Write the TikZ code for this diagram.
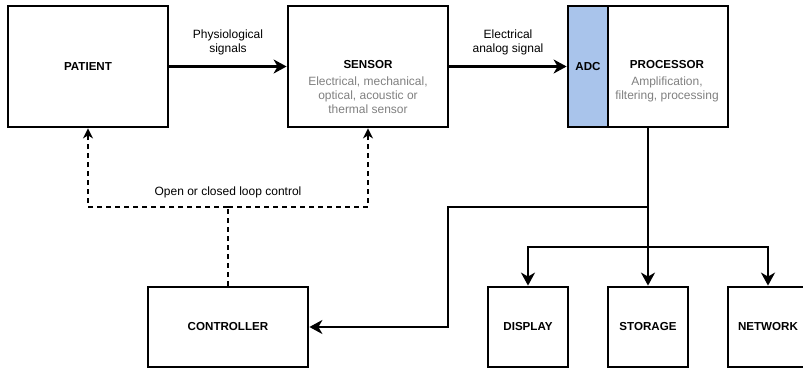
\documentclass[tikz,border=0pt]{standalone}
\usepackage{fontspec}
\setmainfont{Liberation Sans}
\usetikzlibrary{
  positioning,
  arrows.meta
}
\definecolor{note}{HTML}{808080}
\definecolor{adcblue}{HTML}{A9C4EB}

\begin{document}
\begin{tikzpicture}[
  x=1pt, y=-1pt,
  font=\fontsize{12}{14}\selectfont,
  blk/.style={draw, line width=2.8pt, minimum width=160pt, minimum height=121pt,
              inner sep=0pt, font=\fontsize{11.6}{14}\selectfont\bfseries},
  sqr/.style={blk, minimum width=80pt, minimum height=80pt},
  ttl/.style={font=\fontsize{11.6}{14}\selectfont\bfseries, inner sep=0pt},
  sub/.style={text=note, align=center, inner sep=0pt},
  lbl/.style={align=center},
  wire/.style={line width=2.8pt},
  arr/.style={wire, -{Stealth[length=13pt, width=14pt, inset=4pt]}},
  ctl/.style={line width=2.2pt, dash pattern=on 5pt off 4pt,
              -{Stealth[length=10pt, width=10pt, inset=3pt]}}
]
  \useasboundingbox (0,0) rectangle (803,369);
  \clip (0,0) rectangle (803,369);

  % Signal chain
  \node[blk] (patient) at (88,66.5) {PATIENT};
  \node[blk] (sensor) at (368,66.5) {};
  \node[ttl] (sensorttl) at (368,65) {SENSOR};
  \node[sub, below=7pt of sensorttl] (sensorsub) {Electrical, mechanical,\\optical, acoustic or\\thermal sensor};
  \node[blk, minimum width=40pt, fill=adcblue] (adc) at (588,66.5) {ADC};
  \node[blk, minimum width=120pt] (proc) at (668,66.5) {};
  \node[ttl] (procttl) at (667,65) {PROCESSOR};
  \node[sub, below=7pt of procttl] (procsub) {Amplification,\\filtering, processing};

  % Outputs
  \node[blk, minimum width=160pt, minimum height=80pt] (ctrl) at (228,327) {CONTROLLER};
  \node[sqr] (display) at (528,327) {DISPLAY};
  \node[sqr] (storage) at (648,327) {STORAGE};
  \node[sqr] (network) at (768,327) {NETWORK};

  \draw[arr] (patient) -- node[lbl, above=7pt] (physlbl) {Physiological\\signals} (sensor);
  \draw[arr] (sensor) -- node[lbl, above=7pt] (elelbl) {Electrical\\analog signal} (adc);

  \coordinate (split) at (648,207);
  \coordinate (bend) at (448,207);
  \coordinate (fork) at (648,247);
  \draw[arr] (storage |- proc.south) -- (storage);
  \draw[arr] (split) -- (bend) |- (ctrl);
  \draw[arr] (fork) -| (display);
  \draw[arr] (fork) -| (network);

  % Loop control
  \coordinate (loop) at (ctrl |- split);
  \draw[ctl, -] (ctrl) -- (loop) node[above=5pt] (looplbl) {Open or closed loop control};
  \draw[ctl] (loop) -| (patient);
  \draw[ctl] (loop) -| (sensor);
\end{tikzpicture}
\end{document}
